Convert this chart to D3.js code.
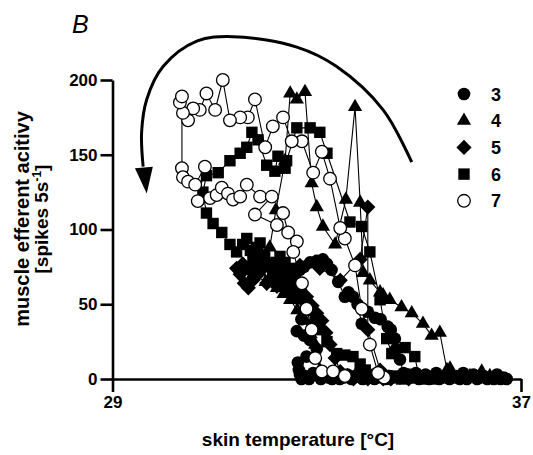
<!DOCTYPE html>
<html><head><meta charset="utf-8">
<script src="https://cdn.jsdelivr.net/npm/d3@7"></script>
<style>body{margin:0;background:#fff} svg{display:block} text{font-family:"Liberation Sans",Arial,Helvetica,sans-serif}</style>
</head><body><svg id="c" width="533" height="455"></svg>
<script>
const xTicks=[29,37];
const yTicks=[0,50,100,150,200];
const seriesNames=["3","4","5","6","7"];
const seriesSymbols=["circle","triangle","diamond","square","open"];
// [skin temperature °C, spikes/5s]
const s3=[[36.72,0],[36.66,1],[36.6,0],[36.53,3],[36.47,0],[36.4,1],[36.34,0],[36.27,2],[36.2,1],[36.14,0],[36.07,3],[36.0,2],[35.94,0],[35.87,4],[35.8,0],[35.74,2],[35.67,1],[35.6,0],[35.54,3],[35.47,1],[35.4,0],[35.34,4],[35.27,1],[35.2,0],[35.13,3],[35.07,1],[35.0,0],[34.94,4],[34.87,1],[34.8,3],[34.74,1],
[34.7,4],[34.63,13],[34.55,20],[34.53,27],[34.45,33],[34.39,35],[34.25,40],[34.14,41],[34.0,45],[33.88,37],[33.8,50],[33.71,55],[33.62,58],[33.55,55],[33.42,65],[33.29,73],[33.2,77],[33.12,80],[33.0,79],[32.87,78],[32.75,75],[32.67,73],[32.55,68],[32.48,63],[32.4,70],[32.3,72],[32.2,76],[32.1,76],[31.95,82],[31.85,85],[32.0,78],[32.15,70],[32.3,64],[32.45,58],[32.61,54],[32.77,46],[32.7,40],[32.61,32],[32.75,29],[32.87,26],[33.0,20],[32.8,15],[32.63,11],[32.65,6],[32.67,3],
[32.7,0],[32.78,2],[32.85,0],[32.93,4],[33.0,3],[33.08,0],[33.15,2],[33.23,1],[33.3,0],[33.38,4],[33.45,0],[33.53,1],[33.6,3],[33.68,0],[33.75,2],[33.83,4],[33.9,0],[33.98,2],[34.05,1],[34.13,0],[34.2,3],[34.28,1],[34.35,0],[34.43,2],[34.5,1]];
const s4=[[36.59,1],[36.5,0],[36.39,2],[36.3,0],[36.23,5],[36.1,1],[36.0,2],[35.9,0],[35.81,2],[35.7,1],[35.61,7],[35.55,6],[35.41,31],[35.25,29],[35.08,37],[34.86,44],[34.66,48],[34.43,53],[34.30,56],[34.24,58],[34.04,66],[33.91,71],[33.85,118],[33.75,182],[33.57,120],[33.36,90],[33.12,102],[33.00,115],[32.90,131],[32.77,192],[32.61,187],[32.48,191],[32.38,146],[32.20,113],[32.08,88],[31.9,75],[31.75,70],[32.0,65],[32.22,61],[32.35,57],[32.48,53],[32.62,46],[32.77,39],[32.88,30],[32.97,23],[33.06,6],[33.2,2],[33.36,1],[33.5,0],[33.6,2],[33.72,0],[33.85,1],[33.97,0],[34.1,2],[34.25,0],[34.4,1],[34.55,0],[34.7,2],[34.85,0],[35.0,1],[35.15,0],[35.3,2],[35.45,0]];
const s5=[[34.8,0],[34.63,1],[34.45,0],[34.24,6],[34.0,33],[34.0,115],[33.85,80],[33.46,66],[33.06,74],[32.67,76],[32.47,70],[32.35,66],[32.22,62],[32.12,67],[32.02,64],[31.95,74],[31.85,70],[31.75,66],[31.66,61],[31.58,64],[31.50,70],[31.43,74],[31.55,77],[31.69,73],[31.8,76],[31.93,78],[32.1,74],[32.28,70],[32.45,66],[32.67,60],[32.8,55],[32.91,49],[33.0,44],[33.10,39],[33.18,31],[33.26,23],[33.36,14],[33.46,5],[33.6,2],[33.72,0],[33.85,1],[34.0,0],[34.15,2],[34.3,0]];
const s6=[[35.3,0],[35.22,1],[35.1,0],[35.0,2],[34.92,15],[34.73,21],[34.47,17],[34.37,27],[34.24,53],[34.04,85],[33.88,102],[33.65,105],[33.20,151],[33.06,165],[32.87,168],[32.61,168],[32.41,146],[32.38,141],[32.24,149],[32.18,139],[32.02,143],[31.85,160],[31.73,165],[31.63,155],[31.50,151],[31.30,146],[31.07,138],[30.84,136],[30.77,125],[30.84,111],[30.97,104],[31.14,98],[31.30,90],[31.43,85],[31.55,90],[31.63,94],[31.7,86],[31.75,81],[31.82,88],[31.89,91],[31.98,82],[32.08,76],[32.14,71],[32.2,78],[32.28,82],[32.38,78],[32.47,74],[32.57,66],[32.67,60],[32.77,53],[32.87,46],[32.97,40],[33.06,33],[33.2,25],[33.39,17],[33.55,16],[33.71,15],[33.85,10],[33.95,6],[34.1,3],[34.24,1],[34.38,0],[34.52,2],[34.66,0],[34.8,1]];
const s7=[[34.32,1],[34.20,4],[34.04,23],[33.88,47],[33.75,76],[33.55,94],[33.46,101],[33.26,134],[33.10,152],[32.93,138],[32.71,159],[32.51,159],[32.34,175],[32.14,169],[31.99,155],[31.79,187],[31.65,175],[31.50,175],[31.30,173],[31.16,200],[31.01,180],[30.84,191],[30.71,180],[30.58,181],[30.48,173],[30.38,178],[30.32,185],[30.36,189],[30.36,141],[30.38,135],[30.48,132],[30.62,130],[30.81,142],[30.67,119],[30.91,121],[31.04,123],[31.14,128],[31.26,124],[31.36,120],[31.50,122],[31.63,130],[31.89,122],[32.12,122],[31.79,110],[32.22,103],[32.34,111],[32.44,98],[32.61,92],[32.54,85],[32.71,64],[32.80,47],[32.90,33],[32.97,14],[33.10,5],[33.32,5],[33.55,2]];
const seriesData=[s3,s4,s5,s6,s7];
const arcPoints=[[34.86,145],[34.30,180],[33.39,209],[32.61,222],[31.36,229],[30.65,226],[29.99,209],[29.67,187],[29.57,165],[29.60,142]];
const arrowHead=[[29.44,141],[29.79,142],[29.67,124]];

const svg=d3.select("#c");
const x=d3.scaleLinear().domain([29,37]).range([112.5,521]);
const y=d3.scaleLinear().domain([0,200]).range([379,80]);

// arc annotation
svg.append("path").attr("d",d3.line().x(d=>x(d[0])).y(d=>y(d[1])).curve(d3.curveCatmullRom.alpha(0.5))(arcPoints))
  .attr("fill","none").attr("stroke","#000").attr("stroke-width",3);
svg.append("path").attr("d",d3.line().x(d=>x(d[0])).y(d=>y(d[1]))(arrowHead)+"Z").attr("fill","#000");

// axes
const gy=svg.append("g").attr("transform","translate(112.5,0)").call(d3.axisLeft(y).tickValues(yTicks).tickSize(12).tickSizeOuter(0).tickPadding(3));
const gx=svg.append("g").attr("transform","translate(0,379)").call(d3.axisBottom(x).tickValues(xTicks).tickSize(13).tickSizeOuter(0).tickPadding(4));
[gx,gy].forEach(g=>{g.selectAll("path,line").attr("stroke","#000").attr("stroke-width",2.6);
  g.selectAll("text").attr("font-size",17).attr("font-weight","bold").attr("fill","#000").style("font-family","Liberation Sans, Arial");});

// lines
const line=d3.line().x(d=>x(d[0])).y(d=>y(d[1]));
const order=[3,2,0,1,4];
order.forEach(i=>{svg.append("path").attr("d",line(seriesData[i])).attr("fill","none").attr("stroke","#000").attr("stroke-width",1.1);});
function sym(type){
  if(type==="circle"||type==="open") return d3.symbol(d3.symbolCircle,125)();
  if(type==="triangle") return d3.symbol(d3.symbolTriangle,88)();
  if(type==="square") return d3.symbol(d3.symbolSquare,130)();
  return d3.symbol(d3.symbolSquare,115)();
}
function drawSym(g,type,cx,cy){
  const p=g.append("path").attr("d",sym(type)).attr("transform",`translate(${cx},${cy})`+(type==="diamond"?" rotate(45)":""));
  if(type==="open") p.attr("fill","#fff").attr("stroke","#000").attr("stroke-width",1.3);
  else p.attr("fill","#000");
}
order.forEach(i=>{const g=svg.append("g");seriesData[i].forEach(d=>drawSym(g,seriesSymbols[i],x(d[0]),y(d[1])));});

// legend
const lg=svg.append("g");
seriesNames.forEach((n,i)=>{const cy=94+i*26.7;drawSym(lg,seriesSymbols[i],464,cy);
  lg.append("text").attr("x",491).attr("y",cy+6.5).attr("font-size",18).attr("font-weight","bold").text(n);});

// titles
svg.append("text").attr("x",72).attr("y",33).attr("font-size",25).attr("font-style","italic").text("B");
svg.append("text").attr("x",298).attr("y",446).attr("text-anchor","middle").attr("font-size",19).attr("font-weight","bold").text("skin temperature [°C]");
const yl=svg.append("g").attr("transform","translate(0,219) rotate(-90)");
yl.append("text").attr("x",0).attr("y",29).attr("text-anchor","middle").attr("font-size",20).attr("font-weight","bold").text("muscle efferent acitivy");
const t2=yl.append("text").attr("x",0).attr("y",48).attr("text-anchor","middle").attr("font-size",19).attr("font-weight","bold");
t2.append("tspan").text("[spikes 5s");
t2.append("tspan").attr("font-size",12).attr("dy",-7).text("-1");
t2.append("tspan").attr("dy",7).text("]");
</script></body></html>
